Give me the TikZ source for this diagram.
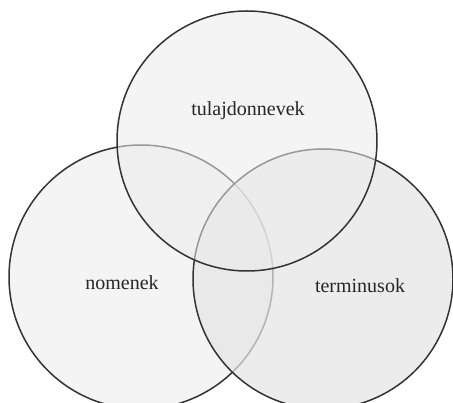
\documentclass[tikz,border=0pt]{standalone}
\usepackage{fontspec}
\setmainfont{Liberation Serif}
\begin{document}
\begin{tikzpicture}[x=1pt,y=-1pt,
  setcircle/.style={draw=black!80,line width=1.5pt},
  lbl/.style={font=\fontsize{20}{23}\selectfont,text=black!85}]
\useasboundingbox (0,0) rectangle (453,403);
\clip (0,0) rectangle (453,403);
\fill[white] (0,0) rectangle (453,403);
% left circle
\path[setcircle,fill={rgb,255:red,244;green,244;blue,244}] (141,277) circle[radius=132];
% right circle
\path[setcircle,fill={rgb,255:red,229;green,229;blue,229},fill opacity=0.72] (323,279) circle[radius=130];
% top circle
\path[setcircle,fill={rgb,255:red,236;green,236;blue,236},fill opacity=0.55] (247,141) circle[radius=130];
\node[lbl] (top) at (248,111) {tulajdonnevek};
\node[lbl] (left) at (122,283) {nomenek};
\node[lbl] (right) at (360,286) {terminusok};
\end{tikzpicture}
\end{document}
